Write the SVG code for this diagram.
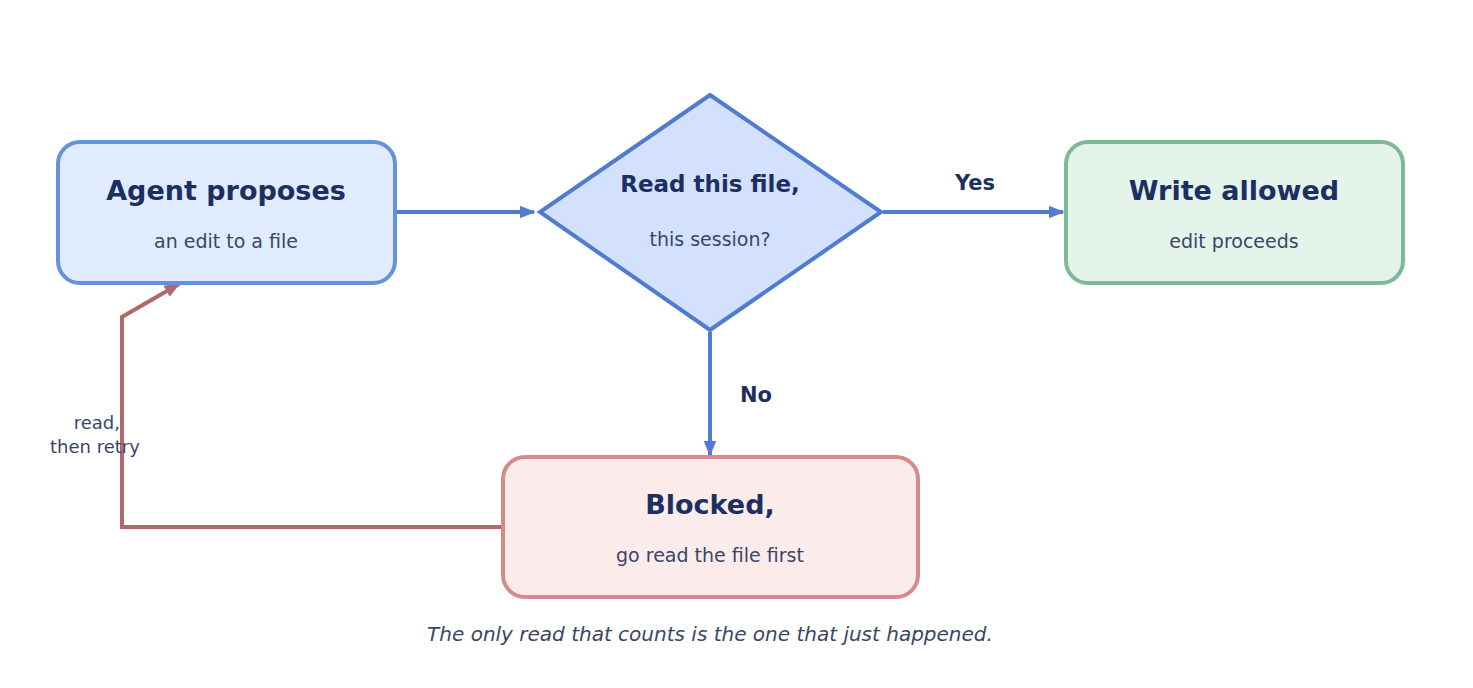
<svg xmlns="http://www.w3.org/2000/svg" width="1473" height="688" viewBox="0 0 1473 688">
<style>
text{font-family:"DejaVu Sans",sans-serif;text-anchor:middle}
.t{font-weight:bold;fill:#1c2f63;font-size:27px}
.s{fill:#3a4668;font-size:19px}
.lb{font-weight:bold;fill:#1c2f63;font-size:21px}
.bl{fill:none;stroke:#4f7bd0;stroke-width:4}
.rd{fill:none;stroke:#b06a6a;stroke-width:4}
</style>
<defs>
<marker id="ab" viewBox="0 0 10 10" refX="9" refY="5" markerWidth="4" markerHeight="4" orient="auto" markerUnits="strokeWidth"><path d="M0,1 L10,5 L0,9 z" fill="#4f7bd0"/></marker>
<marker id="ar" viewBox="0 0 10 10" refX="9" refY="5" markerWidth="4" markerHeight="4" orient="auto" markerUnits="strokeWidth"><path d="M0,1 L10,5 L0,9 z" fill="#b06a6a"/></marker>
</defs>
<rect width="1473" height="688" fill="#fff"/>
<g id="connectors">
<path class="bl" d="M395,212 L534,212" marker-end="url(#ab)"/>
<path class="bl" d="M883,212 L1063,212" marker-end="url(#ab)"/>
<path class="bl" d="M710,332 L710,455" marker-end="url(#ab)"/>
<path class="rd" d="M503,527 L122,527 L122,317 L179,284" marker-end="url(#ar)"/>
<text class="lb" x="975" y="190">Yes</text>
<text class="lb" x="756" y="402">No</text>
<text class="s" x="120" y="429" style="text-anchor:end;font-size:18px">read,</text>
<text class="s" x="95" y="453" style="font-size:18px">then retry</text>
</g>
<g id="agent">
<rect x="58" y="142" width="337" height="141" rx="22" fill="#e0ecfd" stroke="#6492db" stroke-width="4"/>
<text class="t" x="226" y="200">Agent proposes</text>
<text class="s" x="226" y="248">an edit to a file</text>
</g>
<g id="decision">
<polygon points="710,95 881,212 710,330 540,212" fill="#d3e1fe" stroke="#4f7bd0" stroke-width="4"/>
<text class="t" x="710" y="192" style="font-size:23px">Read this file,</text>
<text class="s" x="710" y="246">this session?</text>
</g>
<g id="write">
<rect x="1066" y="142" width="337" height="141" rx="22" fill="#e5f4ea" stroke="#7db996" stroke-width="4"/>
<text class="t" x="1234" y="200">Write allowed</text>
<text class="s" x="1234" y="248">edit proceeds</text>
</g>
<g id="blocked">
<rect x="503" y="457" width="415" height="140" rx="22" fill="#fcebeb" stroke="#d88a8a" stroke-width="4"/>
<text class="t" x="710" y="514">Blocked,</text>
<text class="s" x="710" y="562">go read the file first</text>
</g>
<text class="s" x="710" y="641" style="font-style:italic;font-size:20px">The only read that counts is the one that just happened.</text>
</svg>
